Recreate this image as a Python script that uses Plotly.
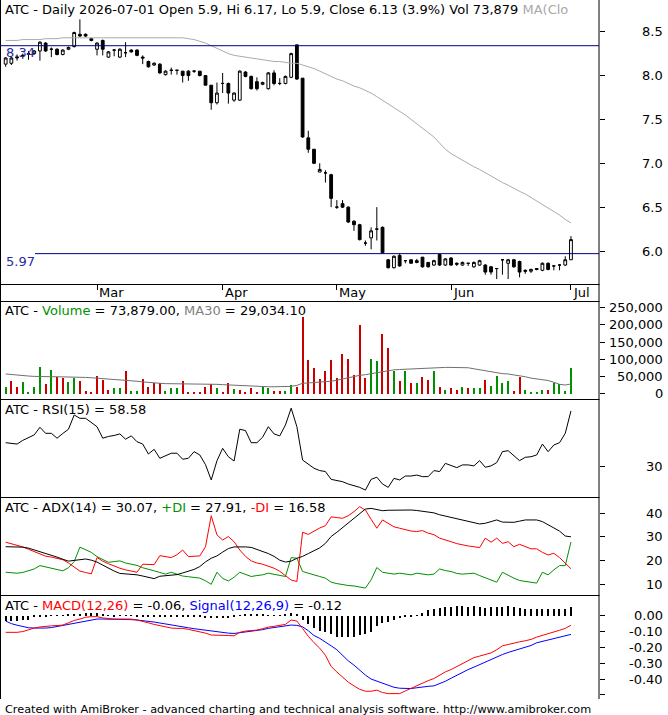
import plotly.graph_objects as go
import pandas as pd

# ---------------- data ----------------
dates = pd.bdate_range("2026-02-05", "2026-07-01", freq="C",
                       holidays=["2026-02-16", "2026-04-03", "2026-04-06",
                                 "2026-05-25", "2026-06-19"])

open_ = [8.13, 8.14, 8.20, 8.22, 8.24, 8.25, 8.28, 8.37, 8.30, 8.30,
         8.24, 8.30, 8.33, 8.47, 8.47, 8.42, 8.30, 8.40, 8.21, 8.29,
         8.21, 8.26, 8.29, 8.29, 8.21, 8.16, 8.12, 8.13, 8.01, 8.06,
         8.06, 8.05, 8.05, 8.05, 8.05, 8.00, 7.89, 7.69, 7.91, 7.91,
         7.72, 7.72, 8.04, 7.99, 7.93, 7.90, 7.85, 8.03, 7.91, 7.91,
         7.98, 8.35, 7.97, 7.29, 7.16, 6.90, 6.89, 6.87, 6.50, 6.54,
         6.50, 6.34, 6.30, 6.09, 6.15, 6.25, 6.27, 5.90, 5.81, 5.95,
         5.89, 5.90, 5.89, 5.93, 5.87, 5.84, 5.96, 5.84, 5.92, 5.86,
         5.84, 5.86, 5.82, 5.84, 5.84, 5.82, 5.80, 5.90, 5.86, 5.90,
         5.88, 5.78, 5.77, 5.80, 5.78, 5.86, 5.83, 5.84, 5.84, 5.90]
high = [8.21, 8.22, 8.24, 8.25, 8.28, 8.29, 8.39, 8.38, 8.32, 8.31,
        8.30, 8.33, 8.50, 8.64, 8.48, 8.43, 8.38, 8.41, 8.28, 8.30,
        8.31, 8.38, 8.30, 8.30, 8.23, 8.17, 8.15, 8.14, 8.06, 8.09,
        8.06, 8.05, 8.06, 8.06, 8.05, 8.00, 7.89, 7.92, 8.03, 7.92,
        7.81, 8.06, 8.05, 8.00, 7.98, 7.93, 8.04, 8.06, 7.97, 8.00,
        8.26, 8.35, 7.97, 7.37, 7.16, 7.00, 6.92, 6.88, 6.58, 6.58,
        6.51, 6.35, 6.31, 6.12, 6.27, 6.50, 6.28, 5.91, 5.95, 5.97,
        5.89, 5.90, 5.91, 5.93, 5.87, 5.90, 5.97, 5.92, 5.93, 5.87,
        5.88, 5.86, 5.88, 5.90, 5.85, 5.83, 5.80, 5.90, 5.91, 5.91,
        5.89, 5.79, 5.80, 5.80, 5.87, 5.87, 5.83, 5.85, 5.94, 6.17]
low = [8.10, 8.12, 8.17, 8.19, 8.18, 8.24, 8.17, 8.27, 8.21, 8.23,
       8.23, 8.29, 8.32, 8.44, 8.44, 8.39, 8.23, 8.23, 8.20, 8.22,
       8.20, 8.21, 8.26, 8.22, 8.13, 8.09, 8.11, 8.02, 8.00, 8.01,
       8.01, 7.92, 7.94, 8.03, 7.99, 7.89, 7.61, 7.67, 7.80, 7.68,
       7.70, 7.71, 7.98, 7.84, 7.83, 7.89, 7.84, 7.89, 7.89, 7.90,
       7.97, 7.95, 7.29, 7.12, 6.99, 6.90, 6.78, 6.50, 6.48, 6.49,
       6.32, 6.23, 6.12, 6.06, 6.02, 6.12, 5.97, 5.80, 5.80, 5.82,
       5.86, 5.86, 5.86, 5.81, 5.81, 5.83, 5.83, 5.83, 5.83, 5.83,
       5.83, 5.83, 5.81, 5.83, 5.73, 5.73, 5.68, 5.73, 5.68, 5.81,
       5.70, 5.74, 5.75, 5.78, 5.77, 5.78, 5.78, 5.78, 5.83, 5.90]
close = [8.20, 8.20, 8.21, 8.23, 8.25, 8.28, 8.38, 8.28, 8.30, 8.24,
         8.29, 8.32, 8.49, 8.45, 8.45, 8.40, 8.37, 8.30, 8.27, 8.29,
         8.30, 8.26, 8.27, 8.23, 8.20, 8.10, 8.14, 8.03, 8.05, 8.06,
         8.06, 8.00, 8.00, 8.05, 8.00, 7.89, 7.69, 7.80, 7.91, 7.80,
         7.80, 8.05, 7.99, 7.85, 7.85, 7.92, 8.03, 7.91, 7.91, 7.99,
         8.25, 7.96, 7.30, 7.16, 7.00, 6.93, 6.89, 6.60, 6.50, 6.50,
         6.33, 6.30, 6.13, 6.09, 6.23, 6.25, 5.98, 5.81, 5.94, 5.83,
         5.89, 5.86, 5.87, 5.82, 5.82, 5.89, 5.84, 5.91, 5.84, 5.85,
         5.87, 5.86, 5.87, 5.89, 5.76, 5.76, 5.80, 5.90, 5.90, 5.82,
         5.76, 5.77, 5.79, 5.79, 5.86, 5.79, 5.83, 5.84, 5.90, 6.13]
ma_close = [8.40, 8.40, 8.40, 8.41, 8.41, 8.41, 8.41, 8.42, 8.42, 8.42,
            8.43, 8.43, 8.43, 8.43, 8.43, 8.43, 8.43, 8.43, 8.43, 8.43,
            8.43, 8.43, 8.43, 8.43, 8.43, 8.43, 8.43, 8.43, 8.43, 8.43,
            8.43, 8.43, 8.42, 8.41, 8.39, 8.37, 8.34, 8.31, 8.28, 8.25,
            8.23, 8.22, 8.21, 8.20, 8.19, 8.18, 8.17, 8.16, 8.16, 8.15,
            8.14, 8.14, 8.12, 8.10, 8.08, 8.05, 8.02, 7.99, 7.96, 7.94,
            7.91, 7.88, 7.86, 7.83, 7.80, 7.76, 7.72, 7.68, 7.64, 7.60,
            7.55, 7.50, 7.45, 7.40, 7.35, 7.30, 7.23, 7.16, 7.11, 7.07,
            7.03, 7.00, 6.96, 6.93, 6.89, 6.85, 6.82, 6.78, 6.75, 6.71,
            6.68, 6.65, 6.61, 6.58, 6.54, 6.50, 6.45, 6.41, 6.36, 6.32]
levels = [8.34, 5.97]

volume = [21000, 38000, 20000, 34000, 7000, 20000, 77000, 28000, 70000, 49000,
          47000, 36000, 45000, 38000, 10000, 7000, 53000, 41000, 12000, 16000,
          18000, 67000, 9000, 9000, 44000, 21000, 31000, 31000, 9000, 18000,
          16000, 38000, 7000, 5000, 7000, 21000, 28000, 18000, 7000, 31000,
          15000, 12000, 7000, 18000, 7000, 21000, 16000, 9000, 9000, 10000,
          26000, 21000, 222000, 99000, 76000, 43000, 68000, 98000, 45000, 115000,
          102000, 55000, 200000, 45000, 102000, 96000, 174000, 134000, 67000, 38000,
          67000, 31000, 31000, 50000, 41000, 67000, 20000, 11000, 16000, 11000,
          20000, 18000, 18000, 18000, 41000, 23000, 52000, 33000, 38000, 9000,
          48000, 12000, 5000, 4000, 11000, 11000, 33000, 30000, 9000, 73879]
vol_up = [1, 0, 0, 1, 1, 1, 1, 0, 1, 0,
          0, 1, 1, 0, 0, 0, 0, 0, 0, 1,
          1, 0, 1, 1, 0, 0, 0, 0, 1, 1,
          1, 0, 0, 0, 0, 0, 0, 1, 0, 0,
          1, 0, 0, 0, 0, 1, 1, 0, 0, 1,
          1, 0, 0, 0, 0, 0, 0, 0, 0, 0,
          0, 0, 0, 0, 1, 1, 0, 0, 1, 0,
          1, 0, 1, 0, 0, 1, 0, 1, 0, 0,
          1, 0, 1, 1, 0, 1, 1, 1, 1, 0,
          0, 1, 1, 1, 1, 0, 1, 1, 1, 1]
vol_ma30 = [58000, 56000, 54000, 53000, 52000, 51000, 50000, 50000, 50000, 50000,
            50000, 50000, 50000, 49000, 48000, 47000, 46000, 45000, 44000, 43000,
            42000, 40000, 38000, 37000, 35000, 33000, 31000, 31000, 30000, 30000,
            29000, 29000, 29000, 28000, 28000, 28000, 28000, 28000, 27000, 26000,
            25000, 24000, 23000, 23000, 22000, 21000, 21000, 21000, 21000, 21000,
            22000, 25000, 31000, 32000, 33000, 34000, 35000, 37000, 40000, 44000,
            47000, 50000, 54000, 56000, 59000, 62000, 66000, 69000, 70000, 71000,
            72000, 73000, 74000, 75000, 76000, 77000, 77000, 77000, 77000, 77000,
            77000, 76000, 73000, 70000, 66000, 63000, 61000, 59000, 58000, 56000,
            53000, 50000, 46000, 44000, 42000, 39000, 34000, 28000, 26000, 29034.1]

rsi = [42.3, 42.0, 41.6, 43.5, 45.0, 46.3, 50.2, 47.1, 47.1, 44.6,
       47.0, 49.2, 56.5, 54.8, 54.8, 52.5, 50.5, 44.6, 45.5, 46.0,
       46.8, 44.1, 45.8, 42.8, 41.6, 36.5, 38.9, 34.3, 35.5, 36.9,
       36.9, 33.8, 34.3, 37.7, 36.0, 31.0, 23.2, 33.0, 39.4, 35.1,
       32.9, 49.2, 48.5, 42.3, 42.3, 45.1, 50.5, 46.8, 45.8, 51.4,
       60.0, 50.5, 33.4, 31.4, 29.2, 28.0, 27.5, 23.5, 23.0, 22.3,
       21.1, 20.2, 19.4, 18.0, 23.5, 24.6, 21.1, 19.4, 24.0, 23.2,
       25.2, 25.2, 25.7, 24.9, 24.9, 28.0, 27.5, 31.7, 30.4, 29.5,
       30.9, 30.9, 30.4, 33.1, 29.7, 30.4, 32.1, 37.7, 38.2, 35.5,
       33.1, 34.8, 35.1, 36.0, 41.6, 37.7, 41.1, 42.3, 47.1, 58.58]

adx = [25.9, 25.9, 25.9, 25.7, 25.3, 24.6, 23.9, 23.0, 22.2, 21.5,
       20.6, 19.8, 20.1, 20.4, 20.7, 20.2, 19.4, 18.1, 16.8, 15.6,
       14.6, 14.4, 14.3, 14.0, 13.5, 12.8, 12.4, 13.4, 13.7, 13.7,
       14.1, 14.8, 15.6, 16.3, 17.5, 19.5, 21.0, 22.0, 23.6, 25.1,
       25.8, 25.9, 25.8, 25.6, 24.8, 24.0, 23.0, 21.8, 20.2, 19.4,
       19.8, 21.0, 21.8, 23.0, 24.3, 25.4, 27.3, 30.2, 32.0, 33.9,
       35.8, 37.8, 39.9, 41.8, 42.1, 41.6, 41.1, 41.3, 41.4, 41.4,
       41.4, 41.4, 41.2, 40.9, 40.7, 40.2, 39.4, 38.8, 38.3, 37.8,
       37.3, 36.7, 36.0, 35.5, 35.8, 36.6, 37.2, 36.3, 36.2, 36.2,
       36.7, 37.2, 37.2, 37.2, 36.5, 35.2, 34.1, 32.5, 30.4, 30.07]
plus_di = [15.1, 14.9, 14.7, 15.0, 15.7, 16.5, 17.9, 17.3, 16.8, 16.2,
           15.7, 17.0, 19.6, 25.7, 24.6, 23.5, 21.7, 20.5, 19.3, 19.6,
           19.9, 19.0, 18.5, 18.0, 17.0, 16.5, 15.7, 15.0, 14.3, 15.1,
           14.3, 13.5, 13.2, 12.9, 12.6, 11.5, 10.0, 15.1, 12.5, 11.4,
           13.0, 15.1, 14.2, 13.3, 13.7, 14.0, 14.7, 14.3, 13.8, 13.3,
           21.3, 21.0, 15.4, 14.6, 14.0, 13.3, 12.6, 10.9, 10.3, 9.8,
           9.5, 9.3, 8.9, 8.4, 11.9, 17.1, 15.1, 14.7, 14.3, 14.7,
           14.3, 14.0, 14.7, 14.3, 14.0, 14.3, 16.5, 15.8, 15.4, 14.6,
           14.3, 14.5, 14.7, 13.7, 12.8, 11.9, 10.9, 15.1, 13.8, 12.6,
           11.6, 11.2, 10.7, 10.5, 15.1, 14.0, 16.1, 17.9, 17.9, 27.91]
minus_di = [27.8, 27.2, 26.4, 25.8, 24.8, 23.8, 22.7, 21.9, 21.5, 21.0,
            20.4, 19.0, 17.1, 15.6, 15.0, 14.4, 21.3, 19.8, 18.7, 17.6,
            16.8, 16.1, 15.5, 15.1, 18.5, 18.5, 18.3, 22.1, 21.7, 21.3,
            22.5, 24.5, 21.7, 21.9, 22.0, 25.9, 39.0, 30.9, 28.7, 30.2,
            28.0, 24.5, 21.8, 19.9, 19.0, 18.5, 17.6, 16.8, 15.5, 13.5,
            11.8, 11.2, 32.0, 31.1, 32.5, 33.8, 34.8, 38.5, 38.2, 37.9,
            39.0, 40.7, 42.8, 41.4, 37.5, 33.7, 37.2, 35.6, 34.3, 33.7,
            33.0, 32.5, 32.3, 32.7, 31.6, 31.0, 29.5, 28.6, 28.0, 27.2,
            26.6, 26.2, 25.9, 25.5, 29.5, 27.8, 29.5, 27.3, 28.0, 25.9,
            26.9, 26.0, 25.0, 25.0, 23.5, 22.4, 23.1, 21.3, 18.9, 16.58]

macd = [-0.105, -0.105, -0.105, -0.100, -0.088, -0.078, -0.071, -0.066, -0.064, -0.062,
        -0.059, -0.045, -0.030, -0.021, -0.010, -0.006, -0.006, -0.014, -0.019, -0.021,
        -0.021, -0.021, -0.021, -0.027, -0.034, -0.045, -0.055, -0.064, -0.073, -0.078,
        -0.080, -0.080, -0.086, -0.094, -0.101, -0.110, -0.122, -0.122, -0.122, -0.125,
        -0.127, -0.105, -0.097, -0.094, -0.091, -0.082, -0.072, -0.067, -0.063, -0.055,
        -0.027, -0.034, -0.080, -0.130, -0.170, -0.205, -0.250, -0.320, -0.355, -0.390,
        -0.420, -0.443, -0.465, -0.477, -0.477, -0.470, -0.485, -0.492, -0.492, -0.492,
        -0.475, -0.458, -0.443, -0.425, -0.410, -0.397, -0.375, -0.355, -0.340, -0.320,
        -0.300, -0.285, -0.265, -0.255, -0.245, -0.235, -0.215, -0.190, -0.182, -0.172,
        -0.165, -0.158, -0.150, -0.135, -0.125, -0.115, -0.105, -0.092, -0.080, -0.060]
signal = [-0.034, -0.050, -0.060, -0.070, -0.076, -0.078, -0.080, -0.078, -0.075, -0.068,
          -0.060, -0.055, -0.045, -0.038, -0.032, -0.026, -0.021, -0.021, -0.021, -0.021,
          -0.022, -0.023, -0.025, -0.027, -0.030, -0.036, -0.040, -0.046, -0.053, -0.059,
          -0.065, -0.070, -0.076, -0.082, -0.087, -0.091, -0.097, -0.101, -0.105, -0.110,
          -0.112, -0.108, -0.101, -0.097, -0.093, -0.088, -0.080, -0.074, -0.068, -0.063,
          -0.059, -0.061, -0.070, -0.095, -0.125, -0.143, -0.165, -0.190, -0.215, -0.250,
          -0.285, -0.312, -0.345, -0.375, -0.400, -0.414, -0.428, -0.443, -0.452, -0.458,
          -0.460, -0.460, -0.455, -0.449, -0.446, -0.443, -0.430, -0.414, -0.395, -0.375,
          -0.355, -0.340, -0.325, -0.308, -0.291, -0.275, -0.257, -0.245, -0.232, -0.222,
          -0.212, -0.198, -0.188, -0.171, -0.162, -0.152, -0.143, -0.135, -0.125, -0.118]
hist = [-0.036, -0.036, -0.034, -0.030, -0.025, -0.008, -0.006, -0.004, 0.004, 0.004,
        0.004, 0.006, 0.008, 0.013, 0.015, 0.015, 0.015, 0.008, 0.004, -0.004,
        0.002, 0.004, 0.004, -0.004, -0.004, -0.006, -0.006, -0.008, -0.008, -0.006,
        -0.004, -0.004, -0.006, -0.008, -0.010, -0.013, -0.017, -0.017, -0.015, -0.013,
        -0.006, 0.004, 0.006, 0.006, 0.008, 0.006, 0.004, 0.004, 0.004, 0.006,
        0.015, 0.010, -0.027, -0.055, -0.080, -0.097, -0.105, -0.118, -0.133, -0.133,
        -0.133, -0.133, -0.122, -0.118, -0.105, -0.063, -0.049, -0.038, -0.027, -0.017,
        -0.006, -0.002, 0.002, 0.015, 0.036, 0.042, 0.051, 0.057, 0.057, 0.061,
        0.061, 0.057, 0.061, 0.057, 0.051, 0.057, 0.057, 0.057, 0.061, 0.057,
        0.046, 0.042, 0.042, 0.042, 0.042, 0.042, 0.042, 0.042, 0.042, 0.057]

price_ticks = [6.0, 6.5, 7.0, 7.5, 8.0, 8.5]
vol_ticks = [0, 50000, 100000, 150000, 200000, 250000]
rsi_ticks = [30]
adx_ticks = [10, 20, 30, 40]
macd_ticks = [0.0, -0.1, -0.2, -0.3, -0.4]
macd_minor = [-0.5]

# ---------------- layout helpers (pixels -> paper) ----------------
W, H = 668, 715
FONT = "DejaVu Sans"
FS = 13
def px(xp):
    return xp / W
def py(yp):
    return 1 - yp / H

X_LEFT, X_RIGHT = 1, 599
XDOM = [px(X_LEFT), px(X_RIGHT)]
XR = [-0.818, 103.91]
panels = {  # top px, bottom px
    "price": (0, 284), "vol": (301, 399), "rsi": (399, 497),
    "adx": (497, 595), "macd": (595, 699)}
def dom(name):
    t, b = panels[name]
    return [py(b), py(t)]

idx = list(range(len(dates)))
month_ticks = [i for i in range(1, len(dates)) if dates[i].month != dates[i - 1].month]
month_text = [dates[i].strftime("%b") for i in month_ticks]

GREEN = "#009000"
RED_V = "#c80000"

fig = go.Figure()
# price panel
fig.add_trace(go.Scatter(x=idx, y=ma_close, mode="lines", line=dict(color="#ababab", width=1),
                         xaxis="x", yaxis="y", hoverinfo="skip"))
fig.add_trace(go.Candlestick(x=idx, open=open_, high=high, low=low, close=close,
                             increasing=dict(line=dict(color="black", width=1), fillcolor="white"),
                             decreasing=dict(line=dict(color="black", width=1), fillcolor="black"),
                             whiskerwidth=0, xaxis="x", yaxis="y", hoverinfo="skip"))
# volume panel
fig.add_trace(go.Bar(x=idx, y=volume, width=0.2,
                     marker=dict(color=[GREEN if u else RED_V for u in vol_up], line=dict(width=0)),
                     xaxis="x2", yaxis="y2", hoverinfo="skip"))
fig.add_trace(go.Scatter(x=idx, y=vol_ma30, mode="lines", line=dict(color="#707070", width=1),
                         xaxis="x2", yaxis="y2", hoverinfo="skip"))
# RSI
fig.add_trace(go.Scatter(x=idx, y=rsi, mode="lines", line=dict(color="black", width=1),
                         xaxis="x3", yaxis="y3", hoverinfo="skip"))
# ADX
fig.add_trace(go.Scatter(x=idx, y=plus_di, mode="lines", line=dict(color=GREEN, width=1),
                         xaxis="x4", yaxis="y4", hoverinfo="skip"))
fig.add_trace(go.Scatter(x=idx, y=minus_di, mode="lines", line=dict(color="#ff0000", width=1),
                         xaxis="x4", yaxis="y4", hoverinfo="skip"))
fig.add_trace(go.Scatter(x=idx, y=adx, mode="lines", line=dict(color="black", width=1),
                         xaxis="x4", yaxis="y4", hoverinfo="skip"))
# MACD
fig.add_trace(go.Bar(x=idx, y=hist, width=0.2, marker=dict(color="black", line=dict(width=0)),
                     xaxis="x5", yaxis="y5", hoverinfo="skip"))
fig.add_trace(go.Scatter(x=idx, y=signal, mode="lines", line=dict(color="#0000ff", width=1),
                         xaxis="x5", yaxis="y5", hoverinfo="skip"))
fig.add_trace(go.Scatter(x=idx, y=macd, mode="lines", line=dict(color="#ff0000", width=1),
                         xaxis="x5", yaxis="y5", hoverinfo="skip"))

def xaxis(anchor, ticks=False):
    d = dict(domain=XDOM, range=XR, anchor=anchor, showgrid=False, zeroline=False,
             showline=False, showticklabels=False, fixedrange=True,
             rangeslider=dict(visible=False))
    if ticks:
        d.update(tickmode="array", tickvals=month_ticks, ticks="outside", ticklen=5,
                 tickwidth=1, tickcolor="black")
    else:
        d.update(ticks="")
    return d

def yaxis(anchor, name, rng, tickvals):
    return dict(domain=dom(name), range=rng, anchor=anchor, side="right",
                showgrid=False, zeroline=False, showline=False, showticklabels=False,
                tickmode="array", tickvals=tickvals, ticks="outside", ticklen=5,
                tickwidth=1, tickcolor="black", fixedrange=True)

layout = dict(
    width=W, height=H, margin=dict(l=0, r=0, t=0, b=0, pad=0),
    paper_bgcolor="white", plot_bgcolor="white", showlegend=False, hovermode=False,
    bargap=0, boxgap=0.3,
    font=dict(family=FONT, size=FS, color="black"),
    xaxis=xaxis("y", ticks=True), xaxis2=xaxis("y2"), xaxis3=xaxis("y3"),
    xaxis4=xaxis("y4"), xaxis5=xaxis("y5"),
    yaxis=yaxis("x", "price", [5.624, 8.861], price_ticks),
    yaxis2=yaxis("x2", "vol", [-14500, 269400], vol_ticks),
    yaxis3=yaxis("x3", "rsi", [14.45, 64.7], rsi_ticks),
    yaxis4=yaxis("x4", "adx", [5.48, 46.9], adx_ticks),
    yaxis5=yaxis("x5", "macd", [-0.526, 0.1308], macd_ticks + macd_minor),
)
fig.update_layout(**layout)

# ---------------- frame lines ----------------
shapes = []
def hline(yp):
    shapes.append(dict(type="line", xref="paper", yref="paper", x0=px(X_LEFT), x1=px(X_RIGHT + 0.5),
                       y0=py(yp + 0.5), y1=py(yp + 0.5), line=dict(color="black", width=1)))
def vline(xp, y0p, y1p):
    shapes.append(dict(type="line", xref="paper", yref="paper", x0=px(xp + 0.5), x1=px(xp + 0.5),
                       y0=py(y0p), y1=py(y1p), line=dict(color="black", width=1)))
for yp in (284, 301, 399, 497, 595):
    hline(yp)
vline(0, 0, 699)
vline(X_RIGHT - 0.5, 0, 699)
# support / resistance levels
level_x0 = [0, 35]
for lv, x0 in zip(levels, level_x0):
    shapes.append(dict(type="line", xref="paper", yref="y", x0=px(x0), x1=px(X_RIGHT),
                       y0=lv, y1=lv, line=dict(color="#000080", width=1)))
fig.update_layout(shapes=shapes)

# ---------------- texts ----------------
ann = []
def text_at(xp, yp, txt, size=FS, color="black", xanchor="left"):
    ann.append(dict(xref="paper", yref="paper", x=px(xp), y=py(yp), text=txt, showarrow=False,
                    xanchor=xanchor, yanchor="middle", font=dict(family=FONT, size=size, color=color),
                    borderpad=0))

chg = (close[-1] / close[-2] - 1) * 100
text_at(4, 10, (f"ATC - Daily {dates[-1].strftime('%Y-%m-%d')} Open {open_[-1]:g}, Hi {high[-1]:g}, "
                f"Lo {low[-1]:g}, Close {close[-1]:g} ({chg:.1f}%) Vol {volume[-1]:,} "
                f"<span style='color:#a8a8a8'>MA(Clo</span>"))
text_at(4, 310, (f"ATC - <span style='color:{GREEN}'>Volume</span> = {volume[-1]:,.2f}, "
                 f"<span style='color:#808080'>MA30</span> = {vol_ma30[-1]:,.2f}"))
text_at(4, 409, f"ATC - RSI(15) = {rsi[-1]:.2f}")
text_at(4, 507, (f"ATC - ADX(14) = {adx[-1]:.2f}, <span style='color:{GREEN}'>+DI</span> = {plus_di[-1]:.2f}, "
                 f"<span style='color:#ff0000'>-DI</span> = {minus_di[-1]:.2f}"))
text_at(4, 605, (f"ATC - <span style='color:#ff0000'>MACD(12,26)</span> = {macd[-1]:.2f}, "
                 f"<span style='color:#0000ff'>Signal(12,26,9)</span> = {signal[-1]:.2f}"))
text_at(4, 709, "Created with AmiBroker - advanced charting and technical analysis software. http://www.amibroker.com",
        size=11.25)

# level labels
for lv, ys in zip(levels, [-7, -8]):
    ann.append(dict(xref="paper", yref="y", x=px(5), y=lv, yshift=ys, text=f"{lv:.2f}",
                    showarrow=False, xanchor="left", yanchor="middle",
                    font=dict(family=FONT, size=FS, color="#2a2aa0"), borderpad=0))

# month labels
for mi, mt in zip(month_ticks, month_text):
    ann.append(dict(xref="x", yref="paper", x=mi, y=py(293), xshift=1, text=mt, showarrow=False,
                    xanchor="left", yanchor="middle", font=dict(family=FONT, size=FS, color="black"),
                    borderpad=0))

# right-side tick labels (right aligned)
def ylabels(yref, vals, fmt):
    for v in vals:
        ann.append(dict(xref="paper", yref=yref, x=px(664), y=v, text=fmt(v), showarrow=False,
                        xanchor="right", yanchor="middle",
                        font=dict(family=FONT, size=FS, color="black"), borderpad=0))
ylabels("y", price_ticks, lambda v: f"{v:.1f}")
ylabels("y2", vol_ticks, lambda v: f"{v:,}")
ylabels("y3", rsi_ticks, lambda v: f"{v}")
ylabels("y4", adx_ticks, lambda v: f"{v}")
ylabels("y5", macd_ticks, lambda v: f"{v:.2f}")
fig.update_layout(annotations=ann)

fig.write_html("out.html")
